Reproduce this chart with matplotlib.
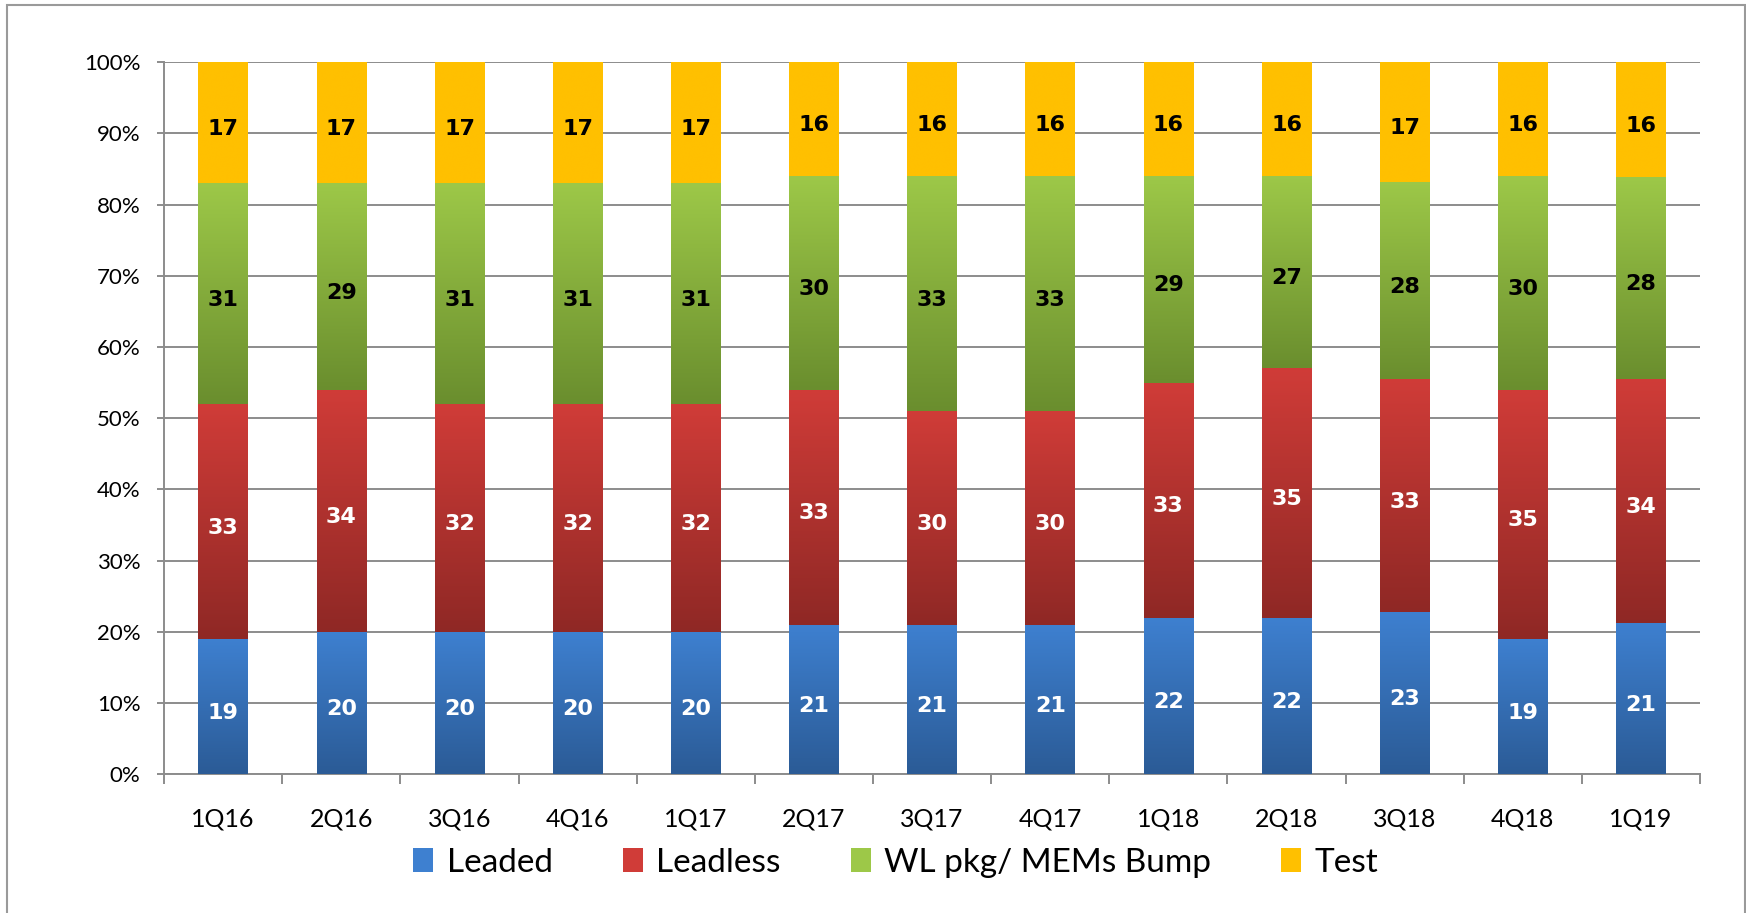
import matplotlib
matplotlib.use("Agg")

import matplotlib.pyplot as plt
import numpy as np
from matplotlib.colors import LinearSegmentedColormap
from matplotlib.patches import Rectangle


QUARTERS = [
    "1Q16", "2Q16", "3Q16", "4Q16", "1Q17", "2Q17", "3Q17",
    "4Q17", "1Q18", "2Q18", "3Q18", "4Q18", "1Q19"
]

SERIES_NAMES = ["Leaded", "Leadless", "WL pkg/ MEMs Bump", "Test"]

leaded = [19, 20, 20, 20, 20, 21, 21, 21, 22, 22, 23, 19, 21]
leadless = [33, 34, 32, 32, 32, 33, 30, 30, 33, 35, 33, 35, 34]
wl_pkg = [31, 29, 31, 31, 31, 30, 33, 33, 29, 27, 28, 30, 28]
test = [17, 17, 17, 17, 17, 16, 16, 16, 16, 16, 17, 16, 16]

# (top colour, bottom colour) of the vertical gradient
COLORS = [
    ("#3e80d0", "#2b5b96"),
    ("#d03c38", "#8f2825"),
    ("#9dc848", "#6a8e2e"),
    ("#ffc000", "#ffc000"),
]
LABEL_COLORS = ["white", "white", "black", "black"]

plt.rcParams["font.family"] = ["Lato", "DejaVu Sans"]

fig = plt.figure(figsize=(17.46, 9.13), dpi=100, facecolor="white")
ax = fig.add_axes([0.094, 0.152, 0.8797, 0.78])

values = np.array([leaded, leadless, wl_pkg, test], dtype=float)
pct = values / values.sum(axis=0) * 100
x = np.arange(len(QUARTERS))
bottom = np.zeros(len(QUARTERS))
width = 0.42

for i, name in enumerate(SERIES_NAMES):
    top_c, bot_c = COLORS[i]
    cmap = LinearSegmentedColormap.from_list(name, [bot_c, top_c])
    bars = ax.bar(
        x,
        pct[i],
        width,
        bottom=bottom,
        color=top_c,
        linewidth=0,
        zorder=3,
        label=name
    )
    grad = np.linspace(0, 1, 256).reshape(-1, 1)
    for rect in bars:
        x0 = rect.get_x()
        y0 = rect.get_y()
        im = ax.imshow(
            grad,
            cmap=cmap,
            origin="lower",
            aspect="auto",
            extent=[x0, x0 + rect.get_width(), y0, y0 + rect.get_height()],
            zorder=3.5,
            interpolation="bicubic"
        )
        im.set_clip_path(rect)
    for j, rect in enumerate(bars):
        ax.annotate(
            f"{int(values[i, j])}",
            (rect.get_x() + rect.get_width() / 2,
             rect.get_y() + rect.get_height() / 2),
            xytext=(0, -3),
            textcoords="offset points",
            ha="center",
            va="center_baseline",
            fontsize=16,
            fontweight="bold",
            family="DejaVu Sans",
            color=LABEL_COLORS[i],
            zorder=5
        )
    bottom += pct[i]

ax.set_xlim(-0.5, len(QUARTERS) - 0.5)
ax.set_ylim(0, 100)

ax.set_yticks(np.arange(0, 101, 10))
ax.set_yticklabels([f"{v}%" for v in range(0, 101, 10)])
ax.yaxis.grid(True, color="#8c8c8c", linewidth=1.4, zorder=1)
ax.set_axisbelow(True)

ax.set_xticks(x)
ax.set_xticklabels(QUARTERS)
ax.set_xticks(np.arange(-0.5, len(QUARTERS), 1), minor=True)
ax.tick_params(axis="x", which="major", length=0, pad=24, labelsize=18)
ax.tick_params(axis="x", which="minor", length=7, width=1.4, color="#8c8c8c")
ax.tick_params(axis="y", length=5, width=1.4, color="#8c8c8c", pad=12,
               labelsize=16)

for side in ["top", "right"]:
    ax.spines[side].set_visible(False)
for side in ["left", "bottom"]:
    ax.spines[side].set_color("#8c8c8c")
    ax.spines[side].set_linewidth(1.4)

handles = [
    Rectangle((0, 0), 1, 1, facecolor=COLORS[i][0]) for i in range(4)
]
fig.legend(
    handles,
    SERIES_NAMES,
    loc="center",
    bbox_to_anchor=(0.513, 0.055),
    ncol=4,
    frameon=False,
    fontsize=24,
    handlelength=0.6,
    handleheight=0.75,
    handletextpad=0.4,
    columnspacing=2.1
)

fig.patches.append(
    Rectangle(
        (0.004, -0.01),
        0.9955,
        1.005,
        transform=fig.transFigure,
        fill=False,
        edgecolor="#9a9a9a",
        linewidth=1.5
    )
)

fig.savefig("out.png", dpi=100, facecolor="white")
